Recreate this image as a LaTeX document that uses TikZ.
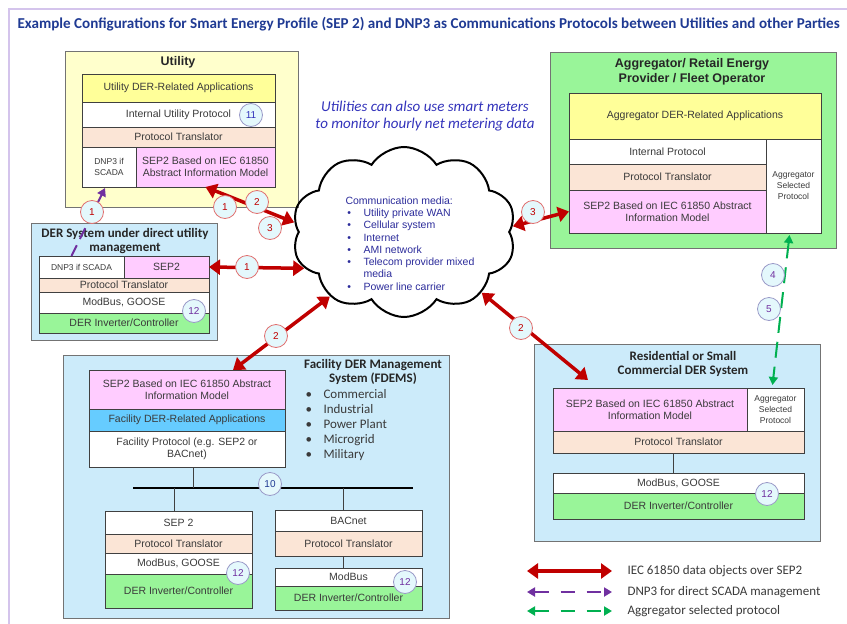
\documentclass[tikz,border=0pt]{standalone}
\usepackage{fontspec}
\setmainfont{Liberation Sans}
\newfontfamily\calibri{Carlito}
\usetikzlibrary{arrows.meta,shapes.symbols,positioning}

\definecolor{utilyel}{HTML}{FFFFCC}
\definecolor{appyel}{HTML}{FFFF99}
\definecolor{peach}{HTML}{FBE5D6}
\definecolor{pinkish}{HTML}{FFCCFF}
\definecolor{invgreen}{HTML}{99F599}
\definecolor{skyblue}{HTML}{CCEBFA}
\definecolor{appblue}{HTML}{66CCFF}
\definecolor{darkred}{HTML}{C00000}
\definecolor{dnppurple}{HTML}{7030A0}
\definecolor{aggreen}{HTML}{00B050}
\definecolor{titleblue}{HTML}{1F3A93}
\definecolor{meterblue}{HTML}{3333BB}
\definecolor{mediablue}{HTML}{2B2B9A}
\definecolor{framepurple}{HTML}{D4C4EC}
\definecolor{txtgray}{HTML}{3A3A3A}
\definecolor{numfill}{HTML}{E4F8FC}
\definecolor{numred}{HTML}{E07070}
\definecolor{numblue}{HTML}{9A9AC8}

\tikzset{
  cell/.style={draw=black!75, line width=0.8pt, outer sep=0pt, inner xsep=2pt, inner ysep=1pt, align=center, anchor=north west, text=txtgray, font=\fontsize{10.5}{12}\selectfont},
  small/.style={font=\fontsize{8.5}{11}\selectfont},
  sz/.style 2 args={minimum width=#1, minimum height=#2},
  group/.style={draw=black!55, line width=0.9pt, anchor=north west, outer sep=0pt},
  ttl/.style={align=center, text=black!85, font=\bfseries\fontsize{12.5}{15}\selectfont},
  cttl/.style={align=center, text=black!85, font=\calibri\bfseries\fontsize{13}{14.5}\selectfont},
  num/.style={circle, draw=numblue, fill=numfill, line width=0.8pt, minimum size=23, inner sep=0pt, text=dnppurple, font=\fontsize{10}{12}\selectfont},
  rnum/.style={num, draw=numred, text=darkred},
  sepline/.style={line width=3.5pt, darkred, {Triangle[length=11pt,width=15pt]}-{Triangle[length=11pt,width=15pt]}},
  dnpline/.style={line width=2pt, dnppurple, dash pattern=on 12pt off 7pt},
  aggline/.style={line width=2pt, aggreen, dash pattern=on 16pt off 9pt, {Triangle[length=8pt,width=9pt]}-{Triangle[length=8pt,width=9pt]}},
  legtxt/.style={anchor=west, text=txtgray, font=\calibri\fontsize{13}{15}\selectfont}
}

\begin{document}
\begin{tikzpicture}[x=1pt,y=-1pt]
\useasboundingbox (0,0) rectangle (847,624);
\draw[framepurple, line width=1.2pt] (847,9) -- (9,9) -- (9,624);
\node[anchor=west, text=titleblue, font=\calibri\bfseries\fontsize{15.1}{17}\selectfont] (title) at (14,24) {Example Configurations for Smart Energy Profile (SEP 2) and DNP3 as Communications Protocols between Utilities and other Parties};

% utility
\node[group, fill=utilyel, sz={233}{156}] (util) at (65,51) {};
\node[ttl] (utilT) at (178,62) {Utility};
\node[cell, fill=appyel, sz={193}{28}] (uApp) at (82,74) {Utility DER-Related Applications};
\node[cell, fill=white, sz={193}{25}] (uInt) at (82,102) {Internal Utility Protocol};
\node[cell, fill=peach, sz={193}{20}] (uTra) at (82,127) {Protocol Translator};
\node[cell, small, fill=white, sz={54}{40}] (uDnp) at (82,147) {DNP3 if\\SCADA};
\node[cell, fill=pinkish, sz={139}{40}] (uSep) at (136,147) {SEP2 Based on IEC 61850\\Abstract Information Model};

% DER under direct utility management
\node[group, fill=skyblue, sz={186}{117}] (der) at (31,223) {};
\node[cttl] (derT) at (125,241) {DER System under direct utility\\management};
\node[cell, small, fill=white, sz={85}{22}] (dDnp) at (39,256) {DNP3 if SCADA};
\node[cell, fill=pinkish, sz={85}{22}] (dSep) at (124,256) {SEP2};
\node[cell, fill=peach, sz={170}{14}] (dTra) at (39,278) {Protocol Translator};
\node[cell, fill=white, sz={170}{21}] (dMod) at (39,292) {ModBus, GOOSE};
\node[cell, fill=invgreen, sz={170}{20}] (dInv) at (39,313) {DER Inverter/Controller};

% cloud
\node[cloud, cloud puffs=10, cloud puff arc=115, cloud ignores aspect, draw, line width=2pt, minimum width=224, minimum height=170] (cloud) at (404,232) {};
\node[anchor=north west, align=left, text=mediablue, font=\fontsize{10.5}{12.3}\selectfont] (media) at (342,193)
  {Communication media:\\
   \makebox[18pt][l]{\,\textbullet}Utility private WAN\\
   \makebox[18pt][l]{\,\textbullet}Cellular system\\
   \makebox[18pt][l]{\,\textbullet}Internet\\
   \makebox[18pt][l]{\,\textbullet}AMI network\\
   \makebox[18pt][l]{\,\textbullet}Telecom provider mixed\\
   \hspace*{18pt}media\\
   \makebox[18pt][l]{\,\textbullet}Power line carrier};
\node[align=center, text=meterblue, font=\calibri\itshape\fontsize{15}{17}\selectfont] (meter) at (425,116) {Utilities can also use smart meters\\to monitor hourly net metering data};

% aggregator
\node[group, fill=invgreen, sz={286}{196}] (agg) at (550,52) {};
\node[ttl] (aggT) at (692,72) {Aggregator/ Retail Energy\\Provider / Fleet Operator};
\node[cell, fill=appyel, sz={252}{46}] (aApp) at (569,93) {Aggregator DER-Related Applications};
\node[cell, fill=white, sz={197}{25}] (aInt) at (569,139) {Internal Protocol};
\node[cell, fill=peach, sz={197}{26}] (aTra) at (569,164) {Protocol Translator};
\node[cell, fill=pinkish, sz={197}{43}] (aSep) at (569,190) {SEP2 Based on IEC 61850 Abstract\\Information Model};
\node[cell, small, fill=white, sz={55}{94}] (aSel) at (766,139) {Aggregator\\Selected\\Protocol};

% residential
\node[group, fill=skyblue, sz={286}{197}] (res) at (534,344) {};
\node[cttl] (resT) at (683,364) {Residential or Small\\Commercial DER System};
\node[cell, fill=pinkish, sz={194}{43}] (rSep) at (553,388) {SEP2 Based on IEC 61850 Abstract\\Information Model};
\node[cell, small, fill=white, sz={57}{43}] (rSel) at (747,388) {Aggregator\\Selected\\Protocol};
\node[cell, fill=peach, sz={251}{22}] (rTra) at (553,431) {Protocol Translator};
\node[cell, fill=white, sz={251}{20}] (rMod) at (553,473) {ModBus, GOOSE};
\node[cell, fill=invgreen, sz={251}{26}] (rInv) at (553,493) {DER Inverter/Controller};
\draw[black!75, line width=0.8pt] ([xshift=-5pt]rTra.south) -- ([xshift=-5pt]rMod.north);

% facility
\node[group, fill=skyblue, sz={386}{263}] (fac) at (63,355) {};
\node[cttl] (facT) at (373,372) {Facility DER Management\\System (FDEMS)};
\node[anchor=north west, align=left, text=txtgray, font=\calibri\fontsize{13}{15}\selectfont] (facList) at (302,386)
  {\makebox[18pt][l]{\textbullet}Commercial\\
   \makebox[18pt][l]{\textbullet}Industrial\\
   \makebox[18pt][l]{\textbullet}Power Plant\\
   \makebox[18pt][l]{\textbullet}Microgrid\\
   \makebox[18pt][l]{\textbullet}Military};
\node[cell, fill=pinkish, sz={196}{39}] (fSep) at (89,370) {SEP2 Based on IEC 61850 Abstract\\Information Model};
\node[cell, fill=appblue, sz={196}{22}] (fApp) at (89,409) {Facility DER-Related Applications};
\node[cell, fill=white, sz={196}{36}] (fPro) at (89,431) {Facility Protocol (e.g. SEP2 or\\BACnet)};
\coordinate (busL) at (133,488);
\coordinate (busR) at (413,488);
\node[cell, fill=white, sz={147}{23}] (lSep) at (105,511) {SEP 2};
\node[cell, fill=peach, sz={147}{19}] (lTra) at (105,534) {Protocol Translator};
\node[cell, fill=white, sz={147}{21}] (lMod) at (105,553) {ModBus, GOOSE};
\node[cell, fill=invgreen, sz={147}{34}] (lInv) at (105,574) {DER Inverter/Controller};
\node[cell, fill=white, sz={147}{21}] (bNet) at (275,510) {BACnet};
\node[cell, fill=peach, sz={147}{25}] (bTra) at (275,531) {Protocol Translator};
\node[cell, fill=white, sz={147}{18}] (bMod) at (275,568) {ModBus};
\node[cell, fill=invgreen, sz={147}{24}] (bInv) at (275,586) {DER Inverter/Controller};
\draw[black, line width=2.5pt] (busL) -- (busR);
\draw[black!75, line width=0.8pt] ([xshift=6pt]fPro.south) -- ([xshift=6pt]fPro.south |- busL);
\draw[black!75, line width=0.8pt] ([xshift=-4pt]lSep.north |- busL) -- ([xshift=-4pt]lSep.north);
\draw[black!75, line width=0.8pt] ([xshift=-5pt]bNet.north |- busL) -- ([xshift=-5pt]bNet.north);
\draw[black!75, line width=0.8pt] ([xshift=-5pt]bTra.south) -- ([xshift=-5pt]bMod.north);

% arrows
\draw[sepline] (uSep.south) -- (cloud.175);
\draw[sepline] (dSep.east) -- (cloud.200);
\draw[sepline] (cloud.221) -- ([xshift=46pt]fSep.north);
\draw[sepline] (cloud.322) -- ([xshift=35pt,yshift=8pt]rSep.north west);
\draw[sepline] (cloud.3) -- (aSep.west);
\draw[dnpline, -{Triangle[length=8pt,width=9pt]}] ([xshift=-10pt]dDnp.north) -- ([xshift=-4pt,yshift=-1pt]uDnp.south);
\draw[aggline] ([xshift=-4pt,yshift=-2pt]aSel.south) -- ([xshift=-3pt,yshift=3pt]rSel.north);

% numbers
\node[num, text=meterblue] (n11) at (251,115) {11};
\node[rnum] (n1a) at (225,207) {1};
\node[rnum] (n2a) at (257,202) {2};
\node[rnum] (n3a) at (270,228) {3};
\node[rnum] (n1b) at (92,212) {1};
\node[rnum] (n1c) at (247,267) {1};
\node[rnum] (n2b) at (276,336) {2};
\node[rnum] (n2c) at (521,328) {2};
\node[rnum] (n3b) at (533,212) {3};
\node[num] (n4) at (773,275) {4};
\node[num] (n5) at (769,309) {5};
\node[num] (n12a) at (194,311) {12};
\node[num] (n12b) at (767,494) {12};
\node[num] (n12c) at (238,573) {12};
\node[num] (n12d) at (405,582) {12};
\node[num, text=titleblue] (n10) at (270,484) {10};

% legend
\node[legtxt] (leg1) at (624,571) {IEC 61850 data objects over SEP2};
\node[legtxt] (leg2) at (624,592) {DNP3 for direct SCADA management};
\node[legtxt] (leg3) at (624,611) {Aggregator selected protocol};
\coordinate (lgA) at (527,571);
\coordinate (lgB) at (527,592);
\coordinate (lgC) at (527,611);
\draw[sepline] (lgA) -- ([xshift=-12pt]leg1.west);
\draw[dnpline, dash pattern=on 14pt off 12pt, {Triangle[length=8pt,width=9pt]}-{Triangle[length=8pt,width=9pt]}] (lgB) -- ([xshift=-12pt]leg2.west);
\draw[aggline, dash pattern=on 14pt off 12pt] (lgC) -- ([xshift=-12pt]leg3.west);
\end{tikzpicture}
\end{document}
